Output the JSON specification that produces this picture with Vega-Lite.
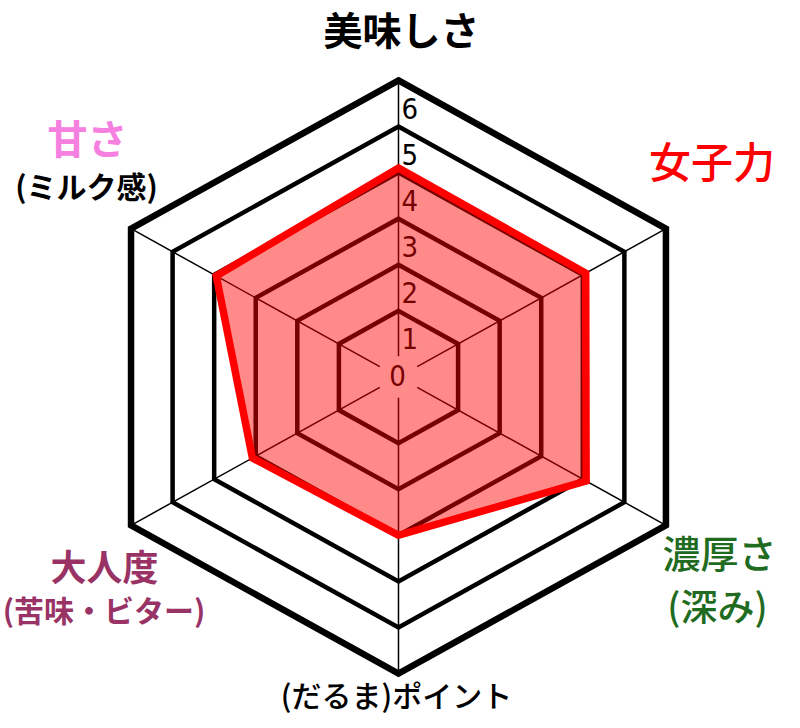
{
  "$schema": "https://vega.github.io/schema/vega-lite/v6.json",
  "width": 800,
  "height": 728,
  "autosize": {"type": "none"},
  "padding": 0,
  "background": "white",
  "config": {"view": {"stroke": null}},
  "datasets": {
    "axes": [
      {"i": 0, "axis": "美味しさ", "sub": "", "score": 4.1},
      {"i": 1, "axis": "女子力", "sub": "", "score": 4.07},
      {"i": 2, "axis": "濃厚さ", "sub": "(深み)", "score": 4.08},
      {"i": 3, "axis": "(だるま)ポイント", "sub": "", "score": 3.0},
      {"i": 4, "axis": "大人度", "sub": "(苦味・ビター)", "score": 3.08},
      {"i": 5, "axis": "甘さ", "sub": "(ミルク感)", "score": 3.95}
    ],
    "rings": [
      {"level": 1, "i": [0, 1, 2, 3, 4, 5]},
      {"level": 2, "i": [0, 1, 2, 3, 4, 5]},
      {"level": 3, "i": [0, 1, 2, 3, 4, 5]},
      {"level": 4, "i": [0, 1, 2, 3, 4, 5]},
      {"level": 5, "i": [0, 1, 2, 3, 4, 5]},
      {"level": 6, "i": [0, 1, 2, 3, 4, 5]}
    ],
    "ticks": [{"n": 0}, {"n": 1}, {"n": 2}, {"n": 3}, {"n": 4}, {"n": 5}, {"n": 6}]
  },
  "encoding": {
    "x": {"field": "x", "type": "quantitative", "axis": null, "scale": {"domain": [-8.302, 8.365], "nice": false, "zero": false}},
    "y": {"field": "y", "type": "quantitative", "axis": null, "scale": {"domain": [-7.614, 8.178], "nice": false, "zero": false}}
  },
  "layer": [
    {
      "data": {"name": "rings"},
      "transform": [
        {"flatten": ["i"]},
        {"calculate": "datum.level + 0.434", "as": "rho"},
        {"calculate": "datum.rho * sin(datum.i * PI / 3)", "as": "x"},
        {"calculate": "datum.rho * cos(datum.i * PI / 3)", "as": "y"}
      ],
      "layer": [
        {
          "transform": [{"filter": "datum.level < 6"}],
          "mark": {"type": "line", "interpolate": "linear-closed", "color": "black", "strokeWidth": 4.5, "strokeJoin": "miter", "strokeMiterLimit": 10},
          "encoding": {
            "detail": {"field": "level", "type": "ordinal"},
            "order": {"field": "i", "type": "quantitative"}
          }
        },
        {
          "transform": [{"filter": "datum.level == 6"}],
          "mark": {"type": "line", "interpolate": "linear-closed", "color": "black", "strokeWidth": 6.5, "strokeJoin": "miter", "strokeMiterLimit": 10},
          "encoding": {
            "detail": {"field": "level", "type": "ordinal"},
            "order": {"field": "i", "type": "quantitative"}
          }
        }
      ]
    },
    {
      "data": {"name": "axes"},
      "transform": [
        {"calculate": "0.45 * sin(datum.i * PI / 3)", "as": "x"},
        {"calculate": "0.45 * cos(datum.i * PI / 3)", "as": "y"},
        {"calculate": "6.434 * sin(datum.i * PI / 3)", "as": "x2"},
        {"calculate": "6.434 * cos(datum.i * PI / 3)", "as": "y2"}
      ],
      "mark": {"type": "rule", "color": "black", "strokeWidth": 1.5},
      "encoding": {"x2": {"field": "x2"}, "y2": {"field": "y2"}}
    },
    {
      "data": {"name": "ticks"},
      "transform": [
        {"filter": "datum.n > 0"},
        {"calculate": "0", "as": "x"},
        {"calculate": "datum.n - 0.2", "as": "y"}
      ],
      "mark": {"type": "text", "align": "left", "baseline": "middle", "dx": 3, "font": "Liberation Sans Narrow, DejaVu Sans Condensed, sans-serif", "fontSize": 29, "color": "black"},
      "encoding": {"text": {"field": "n", "type": "nominal"}}
    },
    {
      "data": {"name": "ticks"},
      "transform": [
        {"filter": "datum.n == 0"},
        {"calculate": "0", "as": "x"},
        {"calculate": "0", "as": "y"}
      ],
      "mark": {"type": "text", "align": "center", "baseline": "middle", "dx": -1, "font": "Liberation Sans Narrow, DejaVu Sans Condensed, sans-serif", "fontSize": 29, "color": "black"},
      "encoding": {"text": {"field": "n", "type": "nominal"}}
    },
    {
      "data": {"name": "axes"},
      "transform": [
        {"calculate": "datum.score + 0.434", "as": "rho"},
        {"calculate": "datum.rho * sin(datum.i * PI / 3)", "as": "x"},
        {"calculate": "datum.rho * cos(datum.i * PI / 3)", "as": "y"}
      ],
      "mark": {"type": "line", "interpolate": "linear-closed", "stroke": "#ff0000", "strokeWidth": 7.5, "fill": "#ff0000", "fillOpacity": 0.46, "strokeJoin": "miter", "strokeMiterLimit": 10},
      "encoding": {"order": {"field": "i", "type": "quantitative"}}
    },
    {
      "data": {"name": "axes"},
      "transform": [
        {"calculate": "6.434 * sin(datum.i * PI / 3)", "as": "x"},
        {"calculate": "6.434 * cos(datum.i * PI / 3)", "as": "y"}
      ],
      "layer": [
        {
          "transform": [{"filter": "datum.i == 0"}],
          "mark": {"type": "text", "align": "center", "baseline": "middle", "dx": 3, "dy": -47, "font": "Noto Sans CJK JP", "fontSize": 39, "fontWeight": "bold", "color": "black"},
          "encoding": {"text": {"field": "axis"}}
        },
        {
          "transform": [{"filter": "datum.i == 5"}],
          "mark": {"type": "text", "align": "center", "baseline": "middle", "dx": -43.5, "dy": -86.7, "font": "Noto Sans CJK JP", "fontSize": 40, "fontWeight": "bold", "color": "#f580e0"},
          "encoding": {"text": {"field": "axis"}}
        },
        {
          "transform": [{"filter": "datum.i == 5"}],
          "mark": {"type": "text", "align": "center", "baseline": "middle", "dx": -44.5, "dy": -39.7, "font": "Noto Sans CJK JP", "fontSize": 30, "fontWeight": "bold", "color": "black"},
          "encoding": {"text": {"field": "sub"}}
        },
        {
          "transform": [{"filter": "datum.i == 1"}],
          "mark": {"type": "text", "align": "center", "baseline": "middle", "dx": 46, "dy": -63.7, "font": "Noto Sans CJK JP", "fontSize": 42, "fontWeight": 500, "color": "#ff0000"},
          "encoding": {"text": {"field": "axis"}}
        },
        {
          "transform": [{"filter": "datum.i == 2"}],
          "mark": {"type": "text", "align": "center", "baseline": "middle", "dx": 53.5, "dy": 31.7, "font": "Noto Sans CJK JP", "fontSize": 38, "fontWeight": 500, "color": "#1f6b1f"},
          "encoding": {"text": {"field": "axis"}}
        },
        {
          "transform": [{"filter": "datum.i == 2"}],
          "mark": {"type": "text", "align": "center", "baseline": "middle", "dx": 51.5, "dy": 84.7, "font": "Noto Sans CJK JP", "fontSize": 37, "fontWeight": 500, "color": "#1f6b1f"},
          "encoding": {"text": {"field": "sub"}}
        },
        {
          "transform": [{"filter": "datum.i == 4"}],
          "mark": {"type": "text", "align": "center", "baseline": "middle", "dx": -26.5, "dy": 44.7, "font": "Noto Sans CJK JP", "fontSize": 36, "fontWeight": "bold", "color": "#993366"},
          "encoding": {"text": {"field": "axis"}}
        },
        {
          "transform": [{"filter": "datum.i == 4"}],
          "mark": {"type": "text", "align": "center", "baseline": "middle", "dx": -27, "dy": 87.7, "font": "Noto Sans CJK JP", "fontSize": 30, "fontWeight": "bold", "color": "#993366"},
          "encoding": {"text": {"field": "sub"}}
        },
        {
          "transform": [{"filter": "datum.i == 3"}],
          "mark": {"type": "text", "align": "center", "baseline": "middle", "dx": -2, "dy": 24.4, "font": "Noto Sans CJK JP", "fontSize": 30, "fontWeight": 500, "color": "black"},
          "encoding": {"text": {"field": "axis"}}
        }
      ]
    }
  ]
}
